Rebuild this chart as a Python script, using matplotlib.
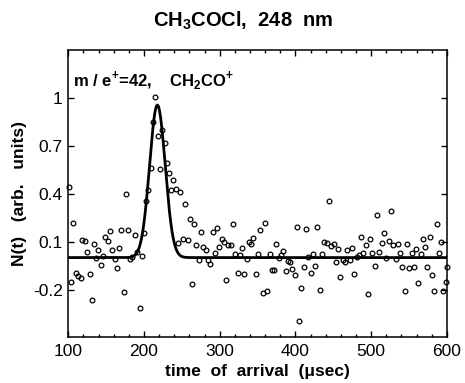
import numpy as np
import matplotlib
matplotlib.use("Agg")
import matplotlib.pyplot as plt
from matplotlib.ticker import MultipleLocator

plt.rcParams['font.family'] = ['Liberation Sans', 'DejaVu Sans']
plt.rcParams['mathtext.fontset'] = 'custom'
plt.rcParams['mathtext.rm'] = 'Liberation Sans'
plt.rcParams['mathtext.bf'] = 'Liberation Sans:bold'

# arrival times (usec) and signal N(t)
t_data = [
    100.5, 103.6, 106.6, 109.7, 112.8, 116.4, 118.5, 122.0, 125.1, 128.3,
    130.9, 134.0, 137.0, 139.6, 143.2, 146.3, 148.9, 152.0, 154.7, 158.1,
    161.3, 163.9, 167.4, 170.0, 173.2, 175.8, 178.9, 181.9, 184.5, 188.1,
    190.8, 194.3, 197.4, 200.0, 202.6, 205.7, 209.2, 211.5, 214.5, 218.1,
    221.1, 223.7, 227.3, 230.3, 233.4, 236.1, 238.7, 242.3, 245.3, 248.0,
    251.1, 254.6, 257.7, 260.4, 263.4, 266.0, 268.7,
    272.7, 275.3, 278.3, 281.5, 284.5, 287.6, 290.8, 293.8, 296.9, 299.5,
    302.6, 305.7, 308.7, 311.4, 314.5, 317.6, 320.6, 323.8, 326.8, 329.9,
    332.5, 335.7, 338.7, 341.4, 344.4, 347.6, 350.6, 353.6, 356.8, 359.8,
    362.9, 366.1, 368.7, 371.7, 374.8, 377.9, 381.0, 384.0, 387.2, 389.8,
    392.9, 395.9, 399.1, 402.1, 404.8, 407.8, 411.0, 414.0, 417.0, 420.2,
    422.8, 425.9, 428.9, 432.1, 435.1,
    438.2, 441.3, 444.4, 447.4, 450.6, 453.6, 456.7, 459.3, 462.5, 465.5,
    468.6, 471.7, 474.8, 477.8, 481.0, 483.6, 486.7, 489.7, 492.9, 495.5,
    498.5, 501.6, 504.8, 507.8, 510.8, 514.0, 517.0, 520.1, 523.3, 526.3,
    529.3, 532.5, 535.5, 538.6, 541.2, 544.4, 547.4, 550.5, 553.6, 556.6,
    559.3, 562.3, 565.5, 568.5, 571.2, 574.3, 577.4, 580.5, 583.5, 586.7,
    589.3, 592.3, 595.4, 598.6, 600.0,
]
n_data = [
    0.440, -0.150, 0.214, -0.096, -0.117, -0.125, 0.110, 0.102, 0.035, -0.104,
    -0.267, 0.088, 0.000, 0.048, -0.046, 0.013, 0.131, 0.104, 0.167, 0.048,
    -0.008, -0.067, 0.058, 0.173, -0.213, 0.396, 0.173, -0.008, 0.004, 0.142,
    0.033, -0.317, 0.010, 0.154, 0.354, 0.421, 0.560, 0.848, 1.004, 0.760,
    0.552, 0.800, 0.720, 0.592, 0.529, 0.425, 0.488, 0.429, 0.090, 0.410,
    0.115, 0.338, 0.110, 0.242, -0.163, 0.210, 0.077,
    -0.014, 0.160, 0.067, 0.046, -0.013, -0.040, 0.160, 0.031, 0.185, 0.067,
    0.119, 0.098, -0.138, 0.079, 0.080, 0.208, 0.025, -0.096, 0.017, 0.063,
    -0.104, -0.010, 0.100, 0.088, 0.123, -0.100, 0.021, 0.175, -0.221, 0.214,
    -0.208, 0.025, -0.077, -0.075, 0.085, -0.002, 0.015, 0.044, -0.083, -0.019,
    -0.029, -0.071, -0.108, 0.192, -0.396, -0.188, -0.060, 0.179, 0.003, -0.096,
    0.025, -0.052, 0.194, -0.200, 0.023,
    0.100, 0.090, 0.352, 0.075, 0.083, -0.027, 0.054, -0.119, -0.017, -0.027,
    0.050, -0.017, 0.060, -0.104, 0.004, 0.017, 0.131, 0.027, 0.079, -0.231,
    0.117, 0.031, -0.052, 0.269, 0.035, 0.094, 0.154, 0.000, 0.106, 0.290,
    0.077, -0.008, 0.085, 0.031, -0.060, -0.208, 0.088, -0.067, 0.031, -0.058,
    0.056, -0.158, 0.021, 0.117, 0.069, -0.058, 0.131, -0.110, -0.208, 0.208,
    0.027, 0.096, -0.210, -0.155, -0.057,
]

# fitted arrival-time profile
FIT_AMP = 0.955
FIT_CENTER = 217.6
FIT_SIGMA = 10.3
FIT_BASE = 0.0

x_ticks = [100, 200, 300, 400, 500, 600]
y_ticks = [-0.2, 0.1, 0.4, 0.7, 1.0]
y_ticklabels = ["-0.2", "0.1", "0.4", "0.7", "1"]

fig = plt.figure(figsize=(4.65, 3.83), dpi=100)
ax = fig.add_axes([0.147, 0.119, 0.814, 0.7505])

t_fit = np.linspace(100, 600, 1001)
n_fit = FIT_BASE + FIT_AMP * np.exp(-0.5 * ((t_fit - FIT_CENTER) / FIT_SIGMA) ** 2)

ax.plot(t_data, n_data, linestyle="none", marker="o", markersize=3.4,
        markerfacecolor="none", markeredgecolor="black", markeredgewidth=0.9,
        zorder=2, clip_on=False)
ax.plot(t_fit, n_fit, color="black", linewidth=2.0, zorder=3)

ax.set_xlim(100, 600)
ax.set_ylim(-0.5, 1.3)
ax.set_xticks(x_ticks)
ax.xaxis.set_minor_locator(MultipleLocator(20))
ax.set_yticks(y_ticks)
ax.set_yticklabels(y_ticklabels)

ax.tick_params(which="both", direction="in", top=True, right=True,
               labelsize=12.5, width=1.0)
ax.tick_params(which="major", length=4.5)
ax.tick_params(which="minor", length=2.5)
ax.tick_params(axis="x", pad=5)
ax.tick_params(axis="y", pad=4)
for sp in ax.spines.values():
    sp.set_linewidth(1.1)

ax.set_xlabel("time  of  arrival  (\u03bcsec)", fontsize=12.5,
              fontweight="bold", labelpad=3)
ax.set_ylabel("N(t)   (arb.   units)", fontsize=12.5, fontweight="bold",
              labelpad=4)

fig.text(0.523, 0.945, r"CH$_{\mathbf{3}}$COCl,  248  nm", ha="center",
         va="center", fontsize=14.5, fontweight="bold")
ax.text(0.012, 0.935,
        r"m / e$^{\mathbf{+}}$=42,    CH$_{\mathbf{2}}$CO$^{\mathbf{+}}$",
        transform=ax.transAxes, ha="left", va="top", fontsize=12,
        fontweight="bold")

fig.savefig("out.png", dpi=100)
